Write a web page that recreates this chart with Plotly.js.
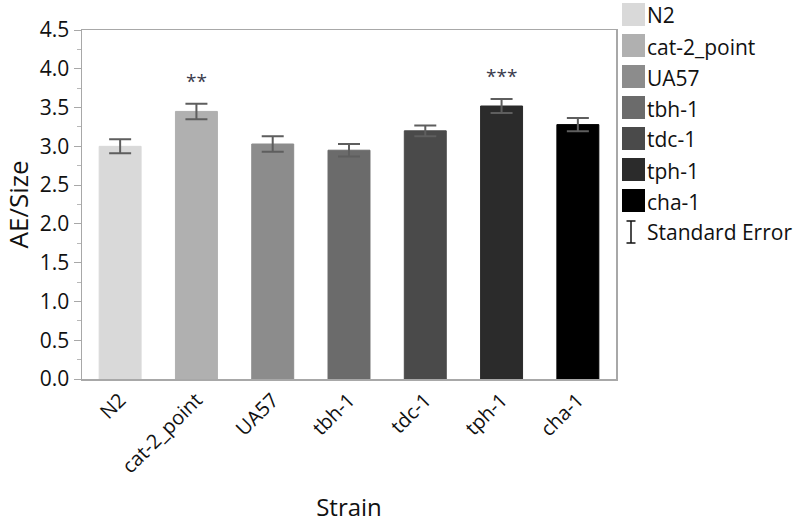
<!DOCTYPE html>
<html>
<head>
<meta charset="utf-8">
<script src="https://cdn.plot.ly/plotly-3.0.1.min.js"></script>
<style>html,body{margin:0;padding:0;background:#fff;}#chart{width:800px;height:523px;}</style>
</head>
<body>
<div id="chart"></div>
<script>
const strains = ['N2', 'cat-2_point', 'UA57', 'tbh-1', 'tdc-1', 'tph-1', 'cha-1'];
const aeSize = [3.00, 3.45, 3.03, 2.95, 3.20, 3.52, 3.28];
const stdErr = [0.09, 0.10, 0.10, 0.08, 0.07, 0.09, 0.085];
const barColors = ['#d9d9d9', '#b0b0b0', '#8c8c8c', '#6b6b6b', '#4a4a4a', '#2b2b2b', '#000000'];
const significance = ['', '**', '', '', '', '***', ''];
const yTicks = [0, 0.5, 1, 1.5, 2, 2.5, 3, 3.5, 4, 4.5];

const FONT = '"Open Sans", "Noto Sans", sans-serif';

const traces = [{
  type: 'bar',
  x: strains,
  y: aeSize,
  width: 0.55,
  marker: {color: barColors, line: {color: barColors.map(c => c), width: 1}},
  error_y: {type: 'data', array: stdErr, visible: true, color: '#5e5e5e', thickness: 2, width: 11},
  showlegend: false,
  hoverinfo: 'x+y'
}];

const annotations = [];
strains.forEach((s, i) => {
  if (significance[i]) {
    annotations.push({
      x: s, y: aeSize[i] + stdErr[i], xref: 'x', yref: 'y',
      text: significance[i], showarrow: false, yanchor: 'bottom', yshift: 8,
      font: {family: FONT, size: 19, color: '#3a3a4a'}
    });
  }
});

// custom legend
const shapes = [];
const legX0 = 622, legY0 = 3, legStep = 31, sw = 23;
const px = v => (v - 82) / 534, py = v => 1 - (v - 30) / 349;
strains.forEach((s, i) => {
  const y = legY0 + i * legStep;
  shapes.push({type: 'rect', xref: 'paper', yref: 'paper',
    x0: px(legX0), x1: px(legX0 + sw), y0: py(y + sw), y1: py(y),
    fillcolor: barColors[i], line: {width: 0}});
  annotations.push({xref: 'paper', yref: 'paper', x: px(legX0 + sw), y: py(y + sw / 2 + 1),
    xanchor: 'left', yanchor: 'middle', showarrow: false, text: s,
    font: {family: FONT, size: 21, color: '#111'}});
});
{
  const y = legY0 + strains.length * legStep;
  const cx = px(legX0 + 9);
  const topY = py(y + 1), botY = py(y + sw);
  const hw = 4.5 / 534;
  shapes.push({type: 'line', xref: 'paper', yref: 'paper', x0: cx, x1: cx, y0: botY, y1: topY, line: {color: '#111', width: 1.5}});
  shapes.push({type: 'line', xref: 'paper', yref: 'paper', x0: cx - hw, x1: cx + hw, y0: topY, y1: topY, line: {color: '#111', width: 1.5}});
  shapes.push({type: 'line', xref: 'paper', yref: 'paper', x0: cx - hw, x1: cx + hw, y0: botY, y1: botY, line: {color: '#111', width: 1.5}});
  annotations.push({xref: 'paper', yref: 'paper', x: px(legX0 + sw), y: py(y + sw / 2 + 1),
    xanchor: 'left', yanchor: 'middle', showarrow: false, text: 'Standard Error',
    font: {family: FONT, size: 21, color: '#111'}});
}

const layout = {
  width: 800, height: 523,
  margin: {l: 82, r: 184, t: 30, b: 144},
  paper_bgcolor: '#fff', plot_bgcolor: '#fff',
  font: {family: FONT, color: '#111'},
  xaxis: {
    type: 'category', categoryorder: 'array', categoryarray: strains,
    tickangle: -45, tickfont: {family: FONT, size: 20, color: '#111'},
    showline: true, linecolor: '#a8a8a8', linewidth: 1.5, mirror: true,
    ticks: '', showgrid: false, zeroline: false,
    title: {text: 'Strain', font: {family: FONT, size: 24, color: '#111'}, standoff: 36}
  },
  yaxis: {
    range: [0, 4.5], tickvals: yTicks, ticktext: yTicks.map(v => v.toFixed(1)),
    tickfont: {family: FONT, size: 21, color: '#111'},
    showline: true, linecolor: '#a8a8a8', linewidth: 1.5, mirror: true,
    ticks: 'outside', ticklen: 7, tickcolor: '#a8a8a8', tickwidth: 1,
    minor: {dtick: 0.25, ticks: 'outside', ticklen: 4, tickcolor: '#b8b8b8', tickwidth: 1, showgrid: false},
    showgrid: false, zeroline: false,
    title: {text: 'AE/Size', font: {family: FONT, size: 26, color: '#111'}, standoff: 6}
  },
  shapes: shapes,
  annotations: annotations,
  showlegend: false
};

Plotly.newPlot('chart', traces, layout, {displayModeBar: false, staticPlot: true});
</script>
</body>
</html>
